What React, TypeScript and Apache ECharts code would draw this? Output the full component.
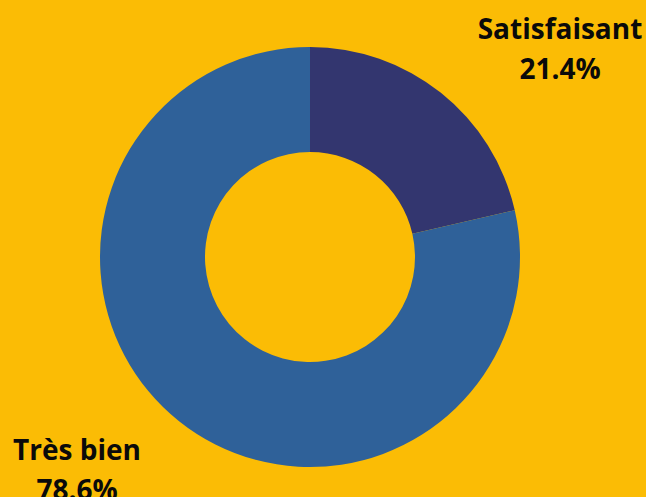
import React, { useEffect, useRef } from "react";
import * as echarts from "echarts";

const categories = ["Satisfaisant", "Très bien"];
const values = [3, 11];
const colors = ["#33366F", "#2F6199"];
const labelPositions = [
  { x: 560, y: 48 },
  { x: 77, y: 469 },
];

export default function App() {
  const ref = useRef<HTMLDivElement>(null);
  useEffect(() => {
    if (!ref.current) return;
    const chart = echarts.init(ref.current, null, { renderer: "svg" });
    chart.setOption({
      animation: false,
      backgroundColor: "#FBBC05",
      series: [
        {
          type: "pie",
          center: [310, 257],
          radius: [105, 210],
          startAngle: 90,
          clockwise: true,
          percentPrecision: 1,
          data: categories.map((c, i) => ({
            name: c,
            value: values[i],
            itemStyle: { color: colors[i] },
          })),
          label: {
            show: true,
            position: "inside",
            formatter: "{b}\n{d}%",
            fontFamily: "Open Sans",
            fontWeight: "bold",
            fontSize: 28,
            lineHeight: 40,
            color: "#0a0a0a",
            align: "center",
            overflow: "none",
          },
          labelLine: { show: false },
          labelLayout: (params: any) => ({
            x: labelPositions[params.dataIndex].x,
            y: labelPositions[params.dataIndex].y,
            align: "center",
            verticalAlign: "middle",
          }),
          emphasis: { disabled: true },
        },
      ],
    });
    return () => chart.dispose();
  }, []);
  return (
    <div
      ref={ref}
      style={{ position: "fixed", left: 0, top: 0, width: 646, height: 497 }}
    />
  );
}
